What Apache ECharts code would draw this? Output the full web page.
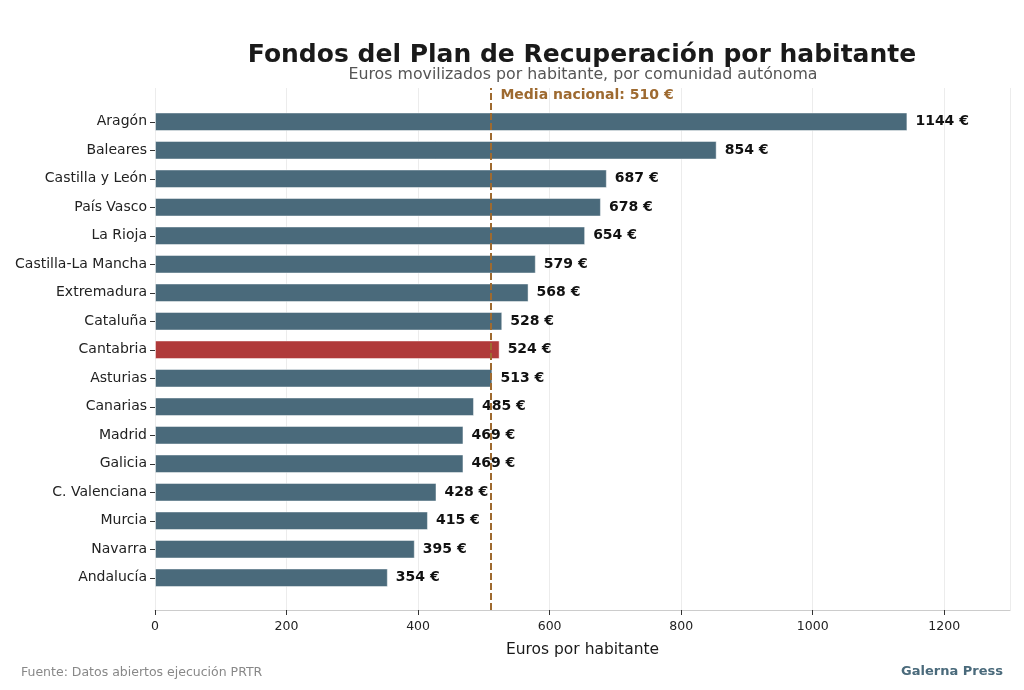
<!DOCTYPE html>
<html>
<head>
<meta charset="utf-8">
<script src="https://cdn.jsdelivr.net/npm/echarts@6/dist/echarts.min.js"></script>
<style>
  html, body { margin: 0; padding: 0; background: #fff; }
  #main { width: 1024px; height: 690px; }
</style>
</head>
<body>
<div id="main"></div>
<script>
var regiones = ['Aragón', 'Baleares', 'Castilla y León', 'País Vasco', 'La Rioja', 'Castilla-La Mancha',
    'Extremadura', 'Cataluña', 'Cantabria', 'Asturias', 'Canarias', 'Madrid', 'Galicia',
    'C. Valenciana', 'Murcia', 'Navarra', 'Andalucía'];
var euros = [1144, 854, 687, 678, 654, 579, 568, 528, 524, 513, 485, 469, 469, 428, 415, 395, 354];
var destacada = 'Cantabria';
var media = 510;
var xTicks = [0, 200, 400, 600, 800, 1000, 1200];

var fuente = 'DejaVu Sans';
var azul = '#4a6a7b';
var rojo = '#b03a3a';
var marron = '#9e6a30';

var myChart = echarts.init(document.getElementById('main'));

var barData = euros.map(function (v, i) {
    return {
        value: v,
        itemStyle: { color: regiones[i] == destacada ? rojo : azul }
    };
});

var option = {
    backgroundColor: '#fff',
    animation: false,
    textStyle: { fontFamily: fuente },
    title: [
        {
            text: 'Fondos del Plan de Recuperación por habitante',
            left: 577, top: 38, textAlign: 'center',
            textStyle: { fontSize: 25, fontWeight: 'bold', color: '#1a1a1a', fontFamily: fuente }
        },
        {
            text: 'Euros movilizados por habitante, por comunidad autónoma',
            left: 578, top: 62, textAlign: 'center',
            textStyle: { fontSize: 15.8, fontWeight: 'normal', color: '#555', fontFamily: fuente }
        },
        {
            text: 'Fuente: Datos abiertos ejecución PRTR',
            left: 16, top: 661,
            textStyle: { fontSize: 12.5, fontWeight: 'normal', color: '#888', fontFamily: fuente }
        },
        {
            text: 'Galerna Press',
            right: 16, top: 660,
            textStyle: { fontSize: 13, fontWeight: 'bold', color: azul, fontFamily: fuente }
        }
    ],
    grid: [
        // barras
        { left: 155, right: 14, top: 107.5, height: 484.5 },
        // fondo: rejilla y eje x
        { left: 155, right: 14, top: 88, bottom: 80 }
    ],
    xAxis: [
        {
            gridIndex: 0, type: 'value', min: 0, max: 1300, interval: 200,
            show: false
        },
        {
            gridIndex: 1, type: 'value', min: 0, max: 1300, interval: 200,
            name: 'Euros por habitante', nameLocation: 'middle', nameGap: 32,
            nameTextStyle: { fontSize: 15.5, color: '#1a1a1a', fontFamily: fuente },
            axisLine: { show: true, lineStyle: { color: '#cccccc', width: 1.2 } },
            axisTick: { show: true, length: 5, lineStyle: { color: '#333' } },
            axisLabel: {
                fontSize: 12.5, color: '#222', margin: 10,
                showMaxLabel: false,
                formatter: function (v) { return xTicks.indexOf(v) >= 0 ? String(v) : ''; }
            },
            splitLine: { show: true, lineStyle: { color: '#ececec', width: 1 } }
        }
    ],
    yAxis: [
        {
            gridIndex: 0, type: 'category', data: regiones, inverse: true,
            axisLine: { show: false },
            axisTick: { show: true, length: 5, alignWithLabel: true, lineStyle: { color: '#333' } },
            axisLabel: { fontSize: 14, color: '#222', margin: 8 }
        },
        {
            gridIndex: 1, type: 'value', min: 0, max: 1, show: false
        }
    ],
    series: [
        {
            name: 'Euros por habitante',
            type: 'bar',
            xAxisIndex: 0, yAxisIndex: 0,
            barWidth: '65%',
            data: barData,
            itemStyle: { borderColor: 'rgba(255,255,255,0.45)', borderWidth: 1 },
            label: {
                show: true, position: 'right', distance: 8,
                formatter: '{c} €',
                fontSize: 14, fontWeight: 'bold', color: '#111', fontFamily: fuente
            },
            z: 3
        },
        {
            name: 'media',
            type: 'scatter',
            xAxisIndex: 1, yAxisIndex: 1,
            data: [],
            markLine: {
                silent: true,
                symbol: 'none',
                lineStyle: { color: marron, type: [7, 3], width: 2 },
                label: {
                    show: true, position: 'end',
                    formatter: 'Media nacional: ' + media + ' €',
                    fontSize: 14, fontWeight: 'bold', color: marron, fontFamily: fuente,
                    align: 'left', verticalAlign: 'top',
                    offset: [10, 0], distance: 0
                },
                data: [{ xAxis: media }]
            },
            z: 4
        }
    ]
};

myChart.setOption(option, true);
</script>
</body>
</html>
